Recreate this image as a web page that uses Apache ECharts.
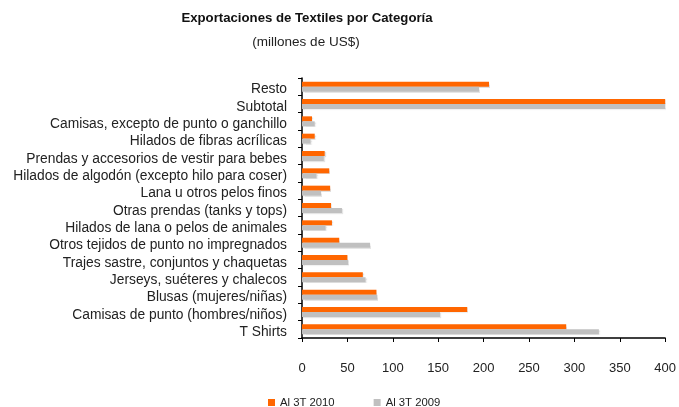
<!DOCTYPE html>
<html>
<head>
<meta charset="utf-8">
<script src="https://cdn.jsdelivr.net/npm/echarts@6/dist/echarts.min.js"></script>
<style>html,body{margin:0;padding:0;background:#fff}#c{width:679px;height:407px}</style>
</head>
<body>
<div id="c"></div>
<script>
const categories = [
  "Resto",
  "Subtotal",
  "Camisas, excepto de punto o ganchillo",
  "Hilados de fibras acrílicas",
  "Prendas y accesorios de vestir para bebes",
  "Hilados de algodón (excepto hilo para coser)",
  "Lana u otros pelos finos",
  "Otras prendas (tanks y tops)",
  "Hilados de lana o pelos de animales",
  "Otros tejidos de punto no impregnados",
  "Trajes sastre, conjuntos y chaquetas",
  "Jerseys, suéteres y chalecos",
  "Blusas (mujeres/niñas)",
  "Camisas de punto (hombres/niños)",
  "T Shirts"
];
const values2010 = [206, 889, 11, 14, 25, 30, 31, 32, 33, 41, 50, 67, 82, 182, 291];
const values2009 = [195, 913, 14, 9.5, 24, 16, 21, 44, 26, 75, 51, 70, 83, 152, 327];
const xTicks = [0, 50, 100, 150, 200, 250, 300, 350, 400];
const seriesNames = ["Al 3T 2010", "Al 3T 2009"];

const chart = echarts.init(document.getElementById('c'));
const font = "Arial, 'Liberation Sans', sans-serif";
chart.setOption({
  animation: false,
  title: [
    {text: "Exportaciones de Textiles por Categoría", left: 307, top: 12, textAlign: 'center', padding: 0,
     textStyle: {fontSize: 13.2, fontWeight: 'bold', color: '#111', fontFamily: font}},
    {text: "(millones de US$)", left: 306, top: 35, textAlign: 'center', padding: 0,
     textStyle: {fontSize: 13.5, fontWeight: 'normal', color: '#222', fontFamily: font}}
  ],
  legend: {
    data: seriesNames, left: 268, top: 397, padding: 0, itemWidth: 7, itemHeight: 7, itemGap: 39, itemTextGap: 2,
    icon: 'rect', textStyle: {fontSize: 11.3, color: '#222', fontFamily: font}
  },
  grid: {left: 302, right: 12, top: 78, bottom: 69, containLabel: false},
  xAxis: {
    type: 'value', min: xTicks[0], max: xTicks[xTicks.length - 1], interval: 50,
    axisLine: {show: true, lineStyle: {color: '#000', width: 1.5}},
    axisTick: {show: true, length: 4, lineStyle: {color: '#000'}},
    splitLine: {show: false},
    axisLabel: {margin: 24, fontSize: 13, color: '#222', fontFamily: font}
  },
  yAxis: {
    type: 'category', data: categories, inverse: true,
    axisLine: {lineStyle: {color: '#000', width: 1.5}},
    axisTick: {show: true, length: 4, alignWithLabel: false, lineStyle: {color: '#000'}},
    axisLabel: {interval: 0, margin: 15, fontSize: 13.8, color: '#222', fontFamily: font,
                verticalAlign: 'top', lineHeight: 6}
  },
  series: [
    {name: seriesNames[0], type: 'bar', data: values2010, barWidth: 5, barGap: '0%',
     itemStyle: {color: '#FF6600', shadowColor: 'rgba(0,0,0,0.12)', shadowOffsetX: 1, shadowOffsetY: 1, shadowBlur: 1}},
    {name: seriesNames[1], type: 'bar', data: values2009, barWidth: 5, barGap: '0%',
     itemStyle: {color: '#C0C0C0', shadowColor: 'rgba(0,0,0,0.10)', shadowOffsetX: 1, shadowOffsetY: 1, shadowBlur: 1}}
  ]
});
</script>
</body>
</html>
